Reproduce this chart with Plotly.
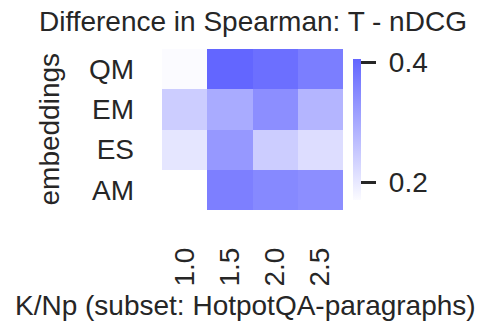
import plotly.graph_objects as go

# K/Np ratios (columns) and embedding variants (rows)
k_np = ["1.0", "1.5", "2.0", "2.5"]
embeddings = ["QM", "EM", "ES", "AM"]

# Spearman(T) - Spearman(nDCG) per embedding / K/Np
qm = [0.170, 0.406, 0.392, 0.368]
em = [0.243, 0.297, 0.343, 0.281]
es = [0.204, 0.327, 0.243, 0.217]
am = [None, 0.366, 0.351, 0.343]

# Colour-bar ticks
cbar_ticks = [0.2, 0.4]
cbar_labels = ["\u00a00.2", "\u00a00.4"]

z = [qm, em, es, am]

font_family = "Liberation Sans, Arial, sans-serif"
text_color = "#262626"
fs = 28

fig = go.Figure(
    go.Heatmap(
        z=z,
        x=k_np,
        y=embeddings,
        colorscale=[[0.0, "#fbfbff"], [1.0, "#6366ff"]],
        zmin=min(v for row in z for v in row if v is not None),
        zmax=max(v for row in z for v in row if v is not None),
        hoverongaps=False,
        colorbar=dict(
            thickness=8,
            len=1.0,
            lenmode="fraction",
            y=0.5,
            yanchor="middle",
            x=1.0,
            xanchor="left",
            xpad=10,
            outlinewidth=0,
            ticks="outside",
            ticklen=15,
            tickwidth=3,
            tickcolor=text_color,
            tickvals=cbar_ticks,
            ticktext=cbar_labels,
            tickfont=dict(size=fs, color=text_color, family=font_family),
        ),
    )
)

fig.update_layout(
    width=495,
    height=329,
    margin=dict(l=162, r=152, t=49, b=119),
    paper_bgcolor="white",
    plot_bgcolor="white",
    font=dict(family=font_family, color=text_color, size=fs),
    title=dict(
        text="Difference in Spearman: T - nDCG",
        x=0.511,
        xanchor="center",
        y=0.935,
        yanchor="middle",
        font=dict(size=fs, color=text_color),
    ),
    xaxis=dict(
        tickangle=-90,
        showgrid=False,
        zeroline=False,
        ticks="",
        ticklabelstandoff=31,
        tickfont=dict(size=fs, color=text_color),
    ),
    yaxis=dict(
        autorange="reversed",
        showgrid=False,
        zeroline=False,
        ticks="",
        ticklabelstandoff=27,
        tickfont=dict(size=fs, color=text_color),
    ),
    annotations=[
        dict(
            text="K/Np (subset: HotpotQA-paragraphs)",
            xref="paper", yref="paper",
            x=(245 - 162) / 181, y=-0.596,
            xanchor="center", yanchor="middle",
            showarrow=False,
            font=dict(size=fs, color=text_color),
        ),
        dict(
            text="embeddings",
            xref="paper", yref="paper",
            x=(49 - 162) / 181, y=0.5,
            xanchor="center", yanchor="middle",
            textangle=-90,
            showarrow=False,
            font=dict(size=fs, color=text_color),
        ),
    ],
)

fig.write_html("out.html")
